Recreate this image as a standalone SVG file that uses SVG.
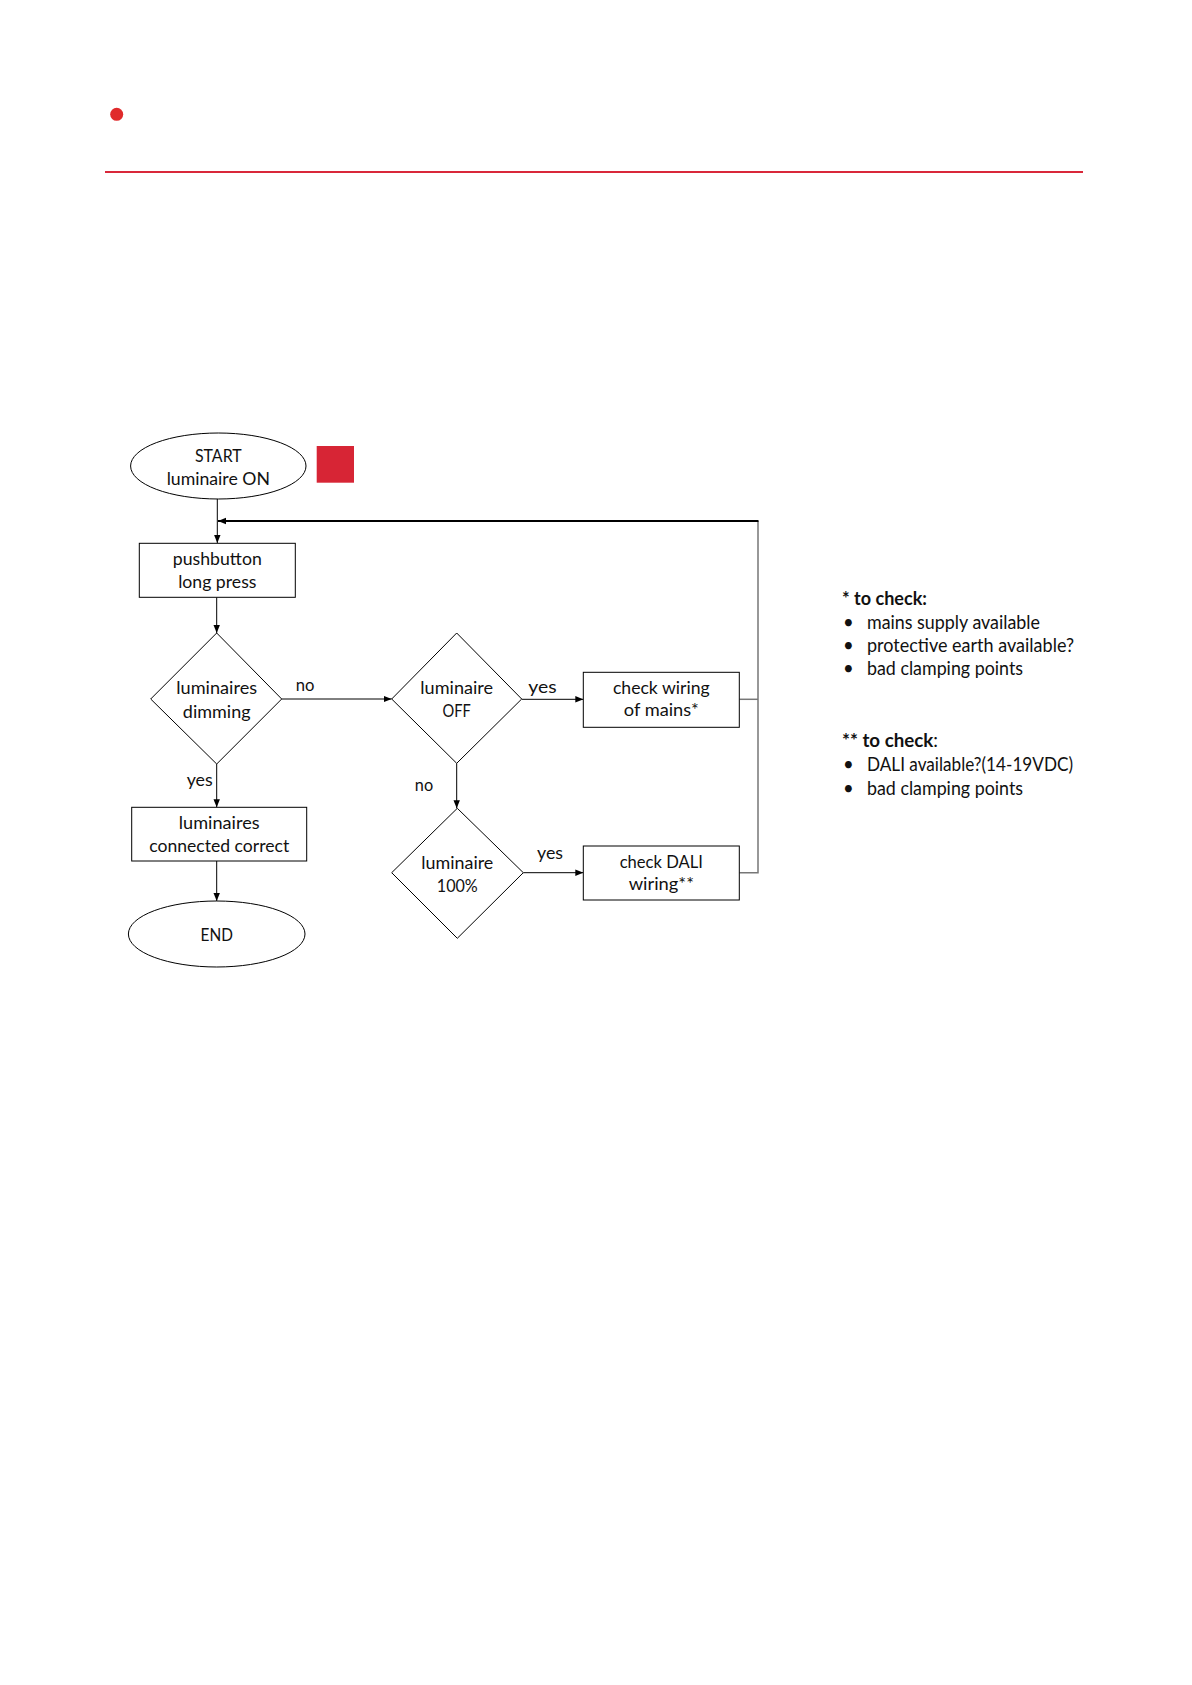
<svg xmlns="http://www.w3.org/2000/svg" width="1192" height="1685" viewBox="0 0 1192 1685">
<defs>
<marker id="ah" markerUnits="userSpaceOnUse" markerWidth="8" markerHeight="8" viewBox="0 0 8 8" refX="8" refY="4" orient="auto">
<path d="M0,0.8 L8,4 L0,7.2 Z" fill="#000"/>
</marker>
</defs>
<style>
.t{font-family:Lato,"Open Sans","Liberation Sans",sans-serif;font-size:18px;fill:#111;text-anchor:middle}
.n{font-family:Lato,"Open Sans","Liberation Sans",sans-serif;font-size:18.5px;fill:#111}
.b{font-weight:bold}
.s{fill:#fff;stroke:#000;stroke-width:1}
.c{fill:none;stroke:#000;stroke-width:1}
.g{fill:none;stroke:#777;stroke-width:1.5}
</style>
<rect width="1192" height="1685" fill="#fff"/>
<g id="header">
<circle cx="116.7" cy="114.3" r="6.5" fill="#e02a2b"/>
<line x1="105" y1="172" x2="1083" y2="172" stroke="#d9283a" stroke-width="2"/>
</g>
<g id="marker-square"><rect x="316.7" y="446" width="37.3" height="36.7" fill="#d72535"/></g>
<g id="connectors">
<line class="c" x1="217.3" y1="499" x2="217.3" y2="543" marker-end="url(#ah)"/>
<line class="c" x1="216.7" y1="597.3" x2="216.7" y2="633" marker-end="url(#ah)"/>
<line class="c" x1="281.7" y1="699" x2="391.7" y2="699" marker-end="url(#ah)"/>
<line class="c" x1="521.7" y1="699.3" x2="583.3" y2="699.3" marker-end="url(#ah)"/>
<line class="c" x1="456.7" y1="763.3" x2="456.7" y2="808.3" marker-end="url(#ah)"/>
<line class="c" x1="523.3" y1="872.7" x2="583.3" y2="872.7" marker-end="url(#ah)"/>
<line class="c" x1="216.7" y1="764" x2="216.7" y2="807.3" marker-end="url(#ah)"/>
<line class="c" x1="216.7" y1="861" x2="216.7" y2="901" marker-end="url(#ah)"/>
<polyline class="g" points="739.3,699.3 758,699.3"/>
<polyline class="g" points="739.3,872.7 758,872.7 758,521"/>
<line x1="758.5" y1="521" x2="218" y2="521" stroke="#000" stroke-width="2" marker-end="url(#ah)"/>
<text class="t" x="305" y="691" textLength="18.7" lengthAdjust="spacingAndGlyphs">no</text>
<text class="t" x="542.5" y="692.5" textLength="28.3" lengthAdjust="spacingAndGlyphs">yes</text>
<text class="t" x="424" y="790.5" textLength="18.3" lengthAdjust="spacingAndGlyphs">no</text>
<text class="t" x="550" y="858.5" textLength="26" lengthAdjust="spacingAndGlyphs">yes</text>
<text class="t" x="199.7" y="785.5" textLength="26" lengthAdjust="spacingAndGlyphs">yes</text>
</g>
<g id="start">
<ellipse class="s" cx="218.3" cy="466" rx="87.7" ry="33"/>
<text class="t" x="218.3" y="461.5" textLength="46.7" lengthAdjust="spacingAndGlyphs">START</text>
<text class="t" x="218.3" y="485" textLength="103.3" lengthAdjust="spacingAndGlyphs">luminaire ON</text>
</g>
<g id="pushbutton">
<rect class="s" x="139.3" y="543.3" width="156" height="54"/>
<text class="t" x="217.3" y="565" textLength="89" lengthAdjust="spacingAndGlyphs">pushbutton</text>
<text class="t" x="217.3" y="587.5" textLength="78.3" lengthAdjust="spacingAndGlyphs">long press</text>
</g>
<g id="dimming">
<polygon class="s" points="216.7,633 281.7,699 216.7,764 150.7,699"/>
<text class="t" x="216.7" y="694" textLength="80.7" lengthAdjust="spacingAndGlyphs">luminaires</text>
<text class="t" x="216.7" y="717.5" textLength="67.7" lengthAdjust="spacingAndGlyphs">dimming</text>
</g>
<g id="off">
<polygon class="s" points="456.7,633 521.7,699 456.7,763.3 391.7,699"/>
<text class="t" x="456.7" y="694" textLength="72.7" lengthAdjust="spacingAndGlyphs">luminaire</text>
<text class="t" x="456.7" y="717" textLength="28.3" lengthAdjust="spacingAndGlyphs">OFF</text>
</g>
<g id="mains">
<rect class="s" x="583.3" y="672.3" width="156" height="55"/>
<text class="t" x="661.3" y="694" textLength="96.7" lengthAdjust="spacingAndGlyphs">check wiring</text>
<text class="t" x="661.3" y="716" textLength="75" lengthAdjust="spacingAndGlyphs">of mains*</text>
</g>
<g id="full">
<polygon class="s" points="457.3,808.3 523.3,872.7 457.3,938.3 391.7,872.7"/>
<text class="t" x="457.3" y="869" textLength="72" lengthAdjust="spacingAndGlyphs">luminaire</text>
<text class="t" x="457.3" y="892" textLength="41" lengthAdjust="spacingAndGlyphs">100%</text>
</g>
<g id="dali">
<rect class="s" x="583.3" y="846" width="156" height="54"/>
<text class="t" x="661.3" y="868" textLength="83.3" lengthAdjust="spacingAndGlyphs">check DALI</text>
<text class="t" x="661.3" y="890" textLength="65.3" lengthAdjust="spacingAndGlyphs">wiring**</text>
</g>
<g id="correct">
<rect class="s" x="131.7" y="807.3" width="175" height="53.7"/>
<text class="t" x="219.2" y="829" textLength="80.7" lengthAdjust="spacingAndGlyphs">luminaires</text>
<text class="t" x="219.2" y="852" textLength="140" lengthAdjust="spacingAndGlyphs">connected correct</text>
</g>
<g id="end">
<ellipse class="s" cx="216.7" cy="934" rx="88.3" ry="33"/>
<text class="t" x="216.7" y="940.5" textLength="32.3" lengthAdjust="spacingAndGlyphs">END</text>
</g>
<g id="notes">
<text class="n b" x="842" y="605" textLength="85" lengthAdjust="spacingAndGlyphs">* to check:</text>
<text class="n" x="843" y="629">•</text>
<text class="n" x="867" y="629" textLength="173" lengthAdjust="spacingAndGlyphs">mains supply available</text>
<text class="n" x="843" y="651.5">•</text>
<text class="n" x="867" y="651.5" textLength="207" lengthAdjust="spacingAndGlyphs">protective earth available?</text>
<text class="n" x="843" y="675">•</text>
<text class="n" x="867" y="675" textLength="156" lengthAdjust="spacingAndGlyphs">bad clamping points</text>
<text class="n b" x="842" y="747" textLength="96" lengthAdjust="spacingAndGlyphs">** to check<tspan font-weight="normal">:</tspan></text>
<text class="n" x="843" y="771">•</text>
<text class="n" x="867" y="771" textLength="206" lengthAdjust="spacingAndGlyphs">DALI available?(14-19VDC)</text>
<text class="n" x="843" y="794.5">•</text>
<text class="n" x="867" y="794.5" textLength="156" lengthAdjust="spacingAndGlyphs">bad clamping points</text>
</g>
</svg>
